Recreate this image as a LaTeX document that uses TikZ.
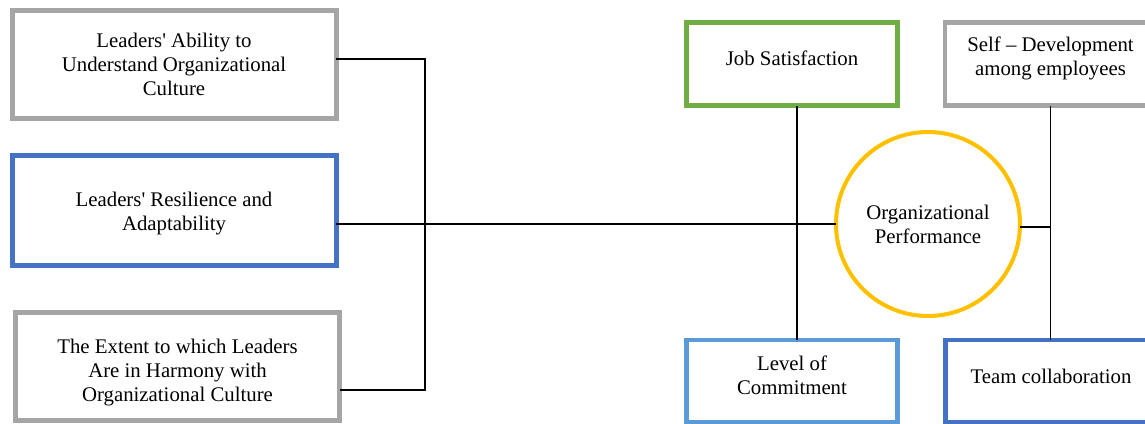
\documentclass[tikz,border=0pt]{standalone}
\usepackage{fontspec}
\setmainfont{Liberation Serif}
\usepackage{xcolor}
\usepackage{tikz}
\usetikzlibrary{
	calc,
	positioning,
	shapes,
	}

\definecolor{boxgray}{HTML}{A5A5A5}
\definecolor{boxblue}{HTML}{4472C4}
\definecolor{boxgreen}{HTML}{70AD47}
\definecolor{boxsky}{HTML}{5B9BD5}
\definecolor{boxgold}{HTML}{FFC000}

\tikzset{
	leaderbox/.style={draw, rectangle, line width=2.5pt, outer sep=0pt, align=center,
		minimum width=162pt, minimum height=54pt, font=\fontsize{10.4pt}{12pt}\selectfont},
	outcomebox/.style={draw, rectangle, line width=2.4pt, outer sep=0pt, align=center,
		minimum width=105.5pt, minimum height=41.5pt, text depth=6pt,
		font=\fontsize{10.4pt}{12pt}\selectfont},
	perfcircle/.style={draw=boxgold, circle, line width=2pt, outer sep=0pt, inner sep=0pt,
		minimum size=92pt, align=center, font=\fontsize{10.4pt}{12pt}\selectfont},
	link/.style={draw, black, line width=0.75pt},
}

\begin{document}
\begin{tikzpicture}[x=0.5pt, y=-0.5pt]
		\useasboundingbox (0,0) rectangle (1145,423);
		\clip (0,0) rectangle (1145,423);
		\node[leaderbox, draw=boxgray] (ability) at (174,64) {Leaders\textquotesingle\ Ability to\\Understand Organizational\\Culture};
		\node[leaderbox, draw=boxblue, minimum height=55pt, text height=22pt, below = 18.75pt of ability] (resilience) {Leaders\textquotesingle\ Resilience and\\Adaptability};
		\node[leaderbox, draw=boxgray, text height=38pt, below = 23.25pt of resilience, xshift=1.75pt] (harmony) {The Extent to which Leaders\\Are in Harmony with\\Organizational Culture};
		\node[outcomebox, draw=boxgreen] (jobsat) at (792,64) {Job Satisfaction};
		\node[outcomebox, draw=boxgray, text depth=8pt, right = 23.75pt of jobsat] (selfdev) {Self -- Development\\among employees};
		\node[outcomebox, draw=boxsky, minimum height=41pt, below = 117.25pt of jobsat] (commit) {Level of\\Commitment};
		\node[outcomebox, draw=boxblue, minimum height=41pt, text depth=4.5pt, right = 24pt of commit] (team) {Team collaboration};
		\node[perfcircle] (perf) at (928,224) {Organizational\\Performance};
		\coordinate (jointop) at (425,59);
		\coordinate (joinbot) at (425,390);
		\coordinate (jobline) at (797,0);
		\draw[link] (ability.east |- jointop) -- (jointop) -- (joinbot) -- (harmony.east |- joinbot);
		\draw[link] (resilience.east |- perf.west) -- (perf.west);
		\draw[link] (jobsat.south -| jobline) -- (commit.north -| jobline);
		\draw[link] (selfdev.south) -- (selfdev.south |- team.north);
		\draw[link] ([yshift=-1.5pt]perf.east) -- ([yshift=-1.5pt]perf.east -| selfdev.south);
	\end{tikzpicture}
\end{document}
